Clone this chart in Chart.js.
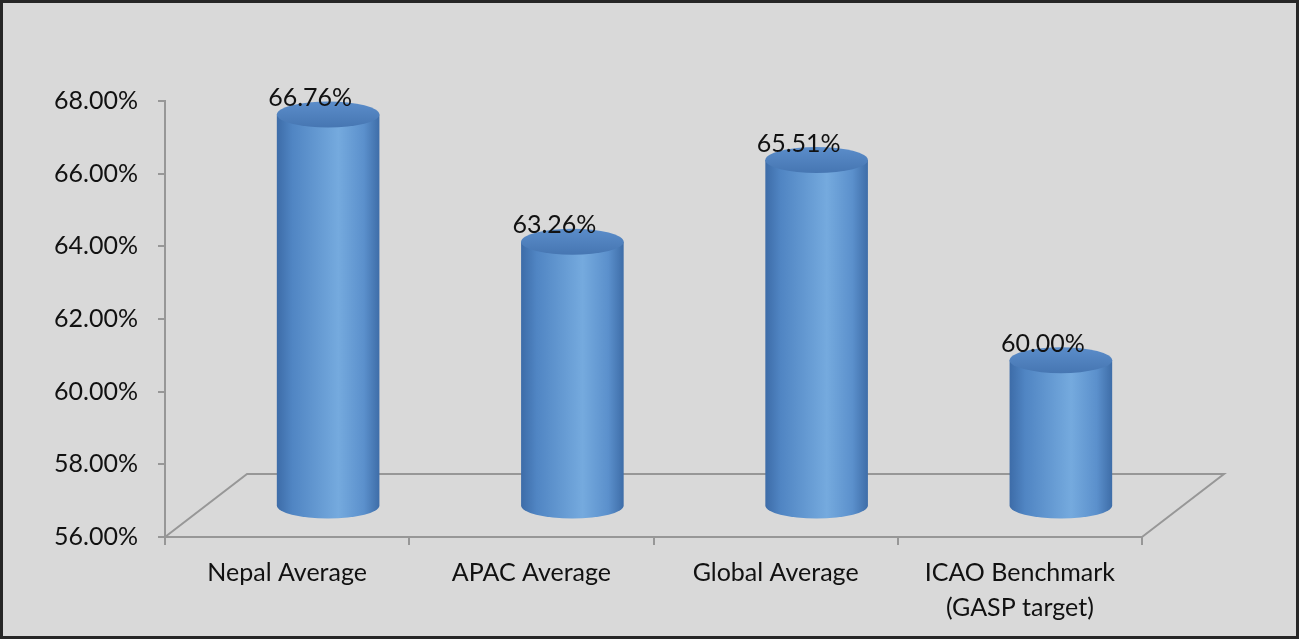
<!DOCTYPE html>
<html>
<head>
<meta charset="utf-8">
<script src="https://cdn.jsdelivr.net/npm/chart.js@4.4.1/dist/chart.umd.min.js"></script>
<style>
  html, body { margin: 0; padding: 0; background: #d9d9d9; }
  #frame {
    width: 1299px; height: 639px; box-sizing: border-box;
    border: 3px solid #262626; background: #d9d9d9; position: relative;
  }
  #frame canvas { display: block; }
</style>
</head>
<body>
<div id="frame"><canvas id="chart" width="1293" height="633"></canvas></div>
<script>
// datos del gráfico
var categorias = ["Nepal Average", "APAC Average", "Global Average", ["ICAO Benchmark", "(GASP target)"]];
var valores = [66.76, 63.26, 65.51, 60.00];
var etiquetas = ["66.76%", "63.26%", "65.51%", "60.00%"];
var ejeMin = 56;
var ejeMax = 68;
var ejePaso = 2;

var fuente = "Lato, 'Open Sans', sans-serif";
var profundidad = { dx: 82, dy: -63 }; // vector de profundidad del piso 3D

// piso 3D (detrás de los cilindros)
var pisoPlugin = {
  id: "piso",
  beforeDatasetsDraw: function (chart) {
    var a = chart.chartArea;
    var ctx = chart.ctx;
    ctx.save();
    ctx.strokeStyle = "#979797";
    ctx.lineWidth = 2;
    ctx.beginPath();
    ctx.moveTo(a.left, a.bottom);
    ctx.lineTo(a.left + profundidad.dx, a.bottom + profundidad.dy);
    ctx.lineTo(a.right + profundidad.dx, a.bottom + profundidad.dy);
    ctx.lineTo(a.right, a.bottom);
    ctx.stroke();
    ctx.restore();
  },
};

// cilindros y etiquetas de valor
var cilindroPlugin = {
  id: "cilindros",
  afterDatasetsDraw: function (chart) {
    var ctx = chart.ctx;
    var meta = chart.getDatasetMeta(0);
    var base = chart.scales.y.getPixelForValue(ejeMin);
    meta.data.forEach(function (bar, i) {
      var cx = bar.x + profundidad.dx / 2;
      var rx = bar.width / 2;
      var ry = 13;
      var yT = bar.y + profundidad.dy / 2;
      var yB = base + profundidad.dy / 2;

      ctx.save();
      // cuerpo
      var g = ctx.createLinearGradient(cx - rx, 0, cx + rx, 0);
      g.addColorStop(0, "#3d6ca8");
      g.addColorStop(0.15, "#5085c3");
      g.addColorStop(0.6, "#75aade");
      g.addColorStop(0.85, "#5b90cc");
      g.addColorStop(1, "#3e6da8");
      ctx.fillStyle = g;
      ctx.beginPath();
      ctx.moveTo(cx - rx, yT);
      ctx.lineTo(cx - rx, yB);
      ctx.ellipse(cx, yB, rx, ry, 0, Math.PI, 0, true);
      ctx.lineTo(cx + rx, yT);
      ctx.closePath();
      ctx.fill();

      // tapa superior
      var gt = ctx.createLinearGradient(0, yT - ry, 0, yT + ry);
      gt.addColorStop(0, "#5b8dca");
      gt.addColorStop(1, "#4676b2");
      ctx.fillStyle = gt;
      ctx.beginPath();
      ctx.ellipse(cx, yT, rx, ry, 0, 0, Math.PI * 2);
      ctx.fill();

      // etiqueta
      ctx.fillStyle = "#111111";
      ctx.font = "25px " + fuente;
      ctx.textAlign = "center";
      ctx.textBaseline = "middle";
      ctx.fillText(etiquetas[i], cx - 18, bar.y - 48);
      ctx.restore();
    });
  },
};

var ctx = document.getElementById("chart").getContext("2d");
var grafico = new Chart(ctx, {
  type: "bar",
  data: {
    labels: categorias,
    datasets: [
      {
        data: valores,
        backgroundColor: "rgba(0,0,0,0)",
        borderWidth: 0,
        categoryPercentage: 1,
        barPercentage: 0.42,
      },
    ],
  },
  options: {
    responsive: false,
    animation: false,
    layout: { padding: { top: 98, right: 154, left: 0, bottom: 0 } },
    plugins: {
      legend: { display: false },
      tooltip: { enabled: false },
    },
    scales: {
      x: {
        grid: { offset: true, drawOnChartArea: false, tickLength: 8, color: "#979797", lineWidth: 2 },
        border: { color: "#979797", width: 2 },
        ticks: {
          color: "#111111",
          font: { family: fuente, size: 25, lineHeight: 1.4 },
          padding: 10,
          maxRotation: 0,
        },
        afterFit: function (scale) { scale.height = 99; },
      },
      y: {
        min: ejeMin,
        max: ejeMax,
        grid: { drawOnChartArea: false, tickLength: 7, color: "#979797", lineWidth: 2 },
        border: { color: "#979797", width: 2 },
        ticks: {
          stepSize: ejePaso,
          color: "#111111",
          font: { family: fuente, size: 25 },
          padding: 20,
          callback: function (v) { return v.toFixed(2) + "%"; },
        },
        afterFit: function (scale) { scale.width = 162; },
      },
    },
  },
  plugins: [pisoPlugin, cilindroPlugin],
});
</script>
</body>
</html>
